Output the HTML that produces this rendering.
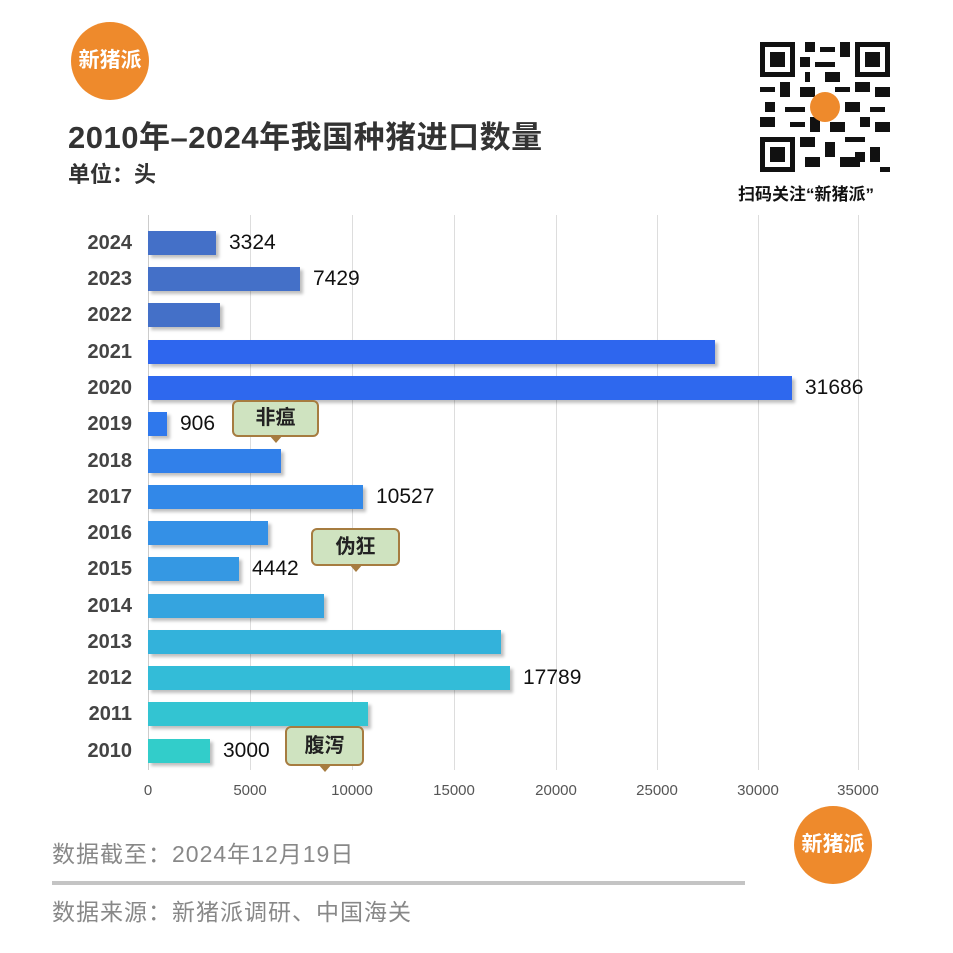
<!DOCTYPE html>
<html><head><meta charset="utf-8"><style>
body{margin:0;background:#fff;width:953px;height:953px;overflow:hidden;position:relative;font-family:"Liberation Sans","Noto Sans CJK SC",sans-serif}
.a{position:absolute;white-space:nowrap}
.yr{position:absolute;left:68px;width:64px;text-align:right;font-weight:bold;font-size:20px;color:#444;font-family:"Liberation Sans",sans-serif}
.bar{position:absolute;left:148px;height:24px;box-shadow:3px 3px 3px rgba(0,0,0,.25)}
.val{position:absolute;font-size:21px;color:#111}
.grid{position:absolute;top:215px;height:555px;width:1px;background:#ddd}
.tick{position:absolute;top:782px;font-size:15px;color:#555;width:80px;margin-left:-40px;text-align:center}
.call{position:absolute;background:#cfe3c0;border:2px solid #a67c40;border-radius:6px;font-size:20px;font-weight:bold;color:#222;text-align:center;box-sizing:border-box}
.call:after{content:"";position:absolute;bottom:-8px;left:50%;margin-left:-7px;border-left:7px solid transparent;border-right:7px solid transparent;border-top:8px solid #a67c40}
.logo{position:absolute;border-radius:50%;background:#ee8a2c;color:#fff;font-weight:bold;text-align:center}
</style></head><body>
<div class="logo" style="left:71px;top:22px;width:78px;height:78px;line-height:78px;font-size:21px">新猪派</div>
<div class="a" style="left:68px;top:112px;font-size:31px;font-weight:bold;color:#333;letter-spacing:0.5px">2010年–2024年我国种猪进口数量</div>
<div class="a" style="left:68px;top:157px;font-size:22px;font-weight:bold;color:#333">单位：头</div>
<svg class="a" style="left:760px;top:42px" width="130" height="130" viewBox="0 0 26 26">
<rect width="26" height="26" fill="#fff"/>
<g fill="#111">
<rect x="0" y="0" width="7" height="7"/><rect x="19" y="0" width="7" height="7"/><rect x="0" y="19" width="7" height="7"/>
</g><g fill="#fff"><rect x="1" y="1" width="5" height="5"/><rect x="20" y="1" width="5" height="5"/><rect x="1" y="20" width="5" height="5"/></g>
<g fill="#111"><rect x="2" y="2" width="3" height="3"/><rect x="21" y="2" width="3" height="3"/><rect x="2" y="21" width="3" height="3"/>
<path d="M9 0h2v2h-2zM12 1h3v1h-3zM16 0h2v3h-2zM8 3h2v2h-2zM11 4h4v1h-4zM9 6h1v2h-1zM13 6h3v2h-3zM0 9h3v1h-3zM4 8h2v3h-2zM8 9h3v2h-3zM15 9h3v1h-3zM19 8h3v2h-3zM23 9h3v2h-3zM1 12h2v2h-2zM5 13h4v1h-4zM17 12h3v2h-3zM22 13h3v1h-3zM0 15h3v2h-3zM6 16h3v1h-3zM10 15h2v3h-2zM14 16h3v2h-3zM20 15h2v2h-2zM23 16h3v2h-3zM8 19h3v2h-3zM13 20h2v3h-2zM17 19h4v1h-4zM22 21h2v3h-2zM9 23h3v2h-3zM16 23h4v2h-4zM24 25h2v1h-2zM19 22h2v2h-2z"/></g>
<circle cx="13" cy="13" r="3" fill="#ee8a2c"/></svg>
<div class="a" style="left:738px;top:180px;font-size:17px;font-weight:bold;color:#111">扫码关注“新猪派”</div>

<div class="grid" style="left:148px;background:#ccc"></div>
<div class="grid" style="left:250px"></div><div class="grid" style="left:352px"></div><div class="grid" style="left:454px"></div><div class="grid" style="left:556px"></div><div class="grid" style="left:657px"></div><div class="grid" style="left:758px"></div><div class="grid" style="left:858px"></div>
<div class="tick" style="left:148px">0</div><div class="tick" style="left:250px">5000</div><div class="tick" style="left:352px">10000</div><div class="tick" style="left:454px">15000</div><div class="tick" style="left:556px">20000</div><div class="tick" style="left:657px">25000</div><div class="tick" style="left:758px">30000</div><div class="tick" style="left:858px">35000</div>

<div class="yr" style="top:232px">2024</div><div class="bar" style="top:231px;width:68px;background:#4470c8"></div><div class="val" style="left:229px;top:231px">3324</div>
<div class="yr" style="top:268px">2023</div><div class="bar" style="top:267px;width:152px;background:#4470c8"></div><div class="val" style="left:313px;top:267px">7429</div>
<div class="yr" style="top:304px">2022</div><div class="bar" style="top:303px;width:72px;background:#4470c8"></div>
<div class="yr" style="top:341px">2021</div><div class="bar" style="top:340px;width:567px;background:#2e66ee"></div>
<div class="yr" style="top:377px">2020</div><div class="bar" style="top:376px;width:644px;background:#2e68ee"></div><div class="val" style="left:805px;top:376px">31686</div>
<div class="yr" style="top:413px">2019</div><div class="bar" style="top:412px;width:19px;background:#2f78ec"></div><div class="val" style="left:180px;top:412px">906</div>
<div class="yr" style="top:450px">2018</div><div class="bar" style="top:449px;width:133px;background:#3180ea"></div>
<div class="yr" style="top:486px">2017</div><div class="bar" style="top:485px;width:215px;background:#3288e8"></div><div class="val" style="left:376px;top:485px">10527</div>
<div class="yr" style="top:522px">2016</div><div class="bar" style="top:521px;width:120px;background:#3490e6"></div>
<div class="yr" style="top:558px">2015</div><div class="bar" style="top:557px;width:91px;background:#3598e3"></div><div class="val" style="left:252px;top:557px">4442</div>
<div class="yr" style="top:595px">2014</div><div class="bar" style="top:594px;width:176px;background:#35a4df"></div>
<div class="yr" style="top:631px">2013</div><div class="bar" style="top:630px;width:353px;background:#33b2db"></div>
<div class="yr" style="top:667px">2012</div><div class="bar" style="top:666px;width:362px;background:#33bcd8"></div><div class="val" style="left:523px;top:666px">17789</div>
<div class="yr" style="top:703px">2011</div><div class="bar" style="top:702px;width:220px;background:#33c4d2"></div>
<div class="yr" style="top:740px">2010</div><div class="bar" style="top:739px;width:62px;background:#32cdca"></div><div class="val" style="left:223px;top:739px">3000</div>

<div class="call" style="left:232px;top:400px;width:87px;height:37px;line-height:33px">非瘟</div>
<div class="call" style="left:311px;top:528px;width:89px;height:38px;line-height:34px">伪狂</div>
<div class="call" style="left:285px;top:726px;width:79px;height:40px;line-height:36px">腹泻</div>

<div class="a" style="left:52px;top:835px;font-size:23px;color:#888;letter-spacing:1px">数据截至：2024年12月19日</div>
<div class="a" style="left:52px;top:881px;width:693px;height:4px;background:#c4c4c4"></div>
<div class="a" style="left:52px;top:893px;font-size:23px;color:#888;letter-spacing:1px">数据来源：新猪派调研、中国海关</div>
<div class="logo" style="left:794px;top:806px;width:78px;height:78px;line-height:78px;font-size:21px">新猪派</div>
</body></html>
